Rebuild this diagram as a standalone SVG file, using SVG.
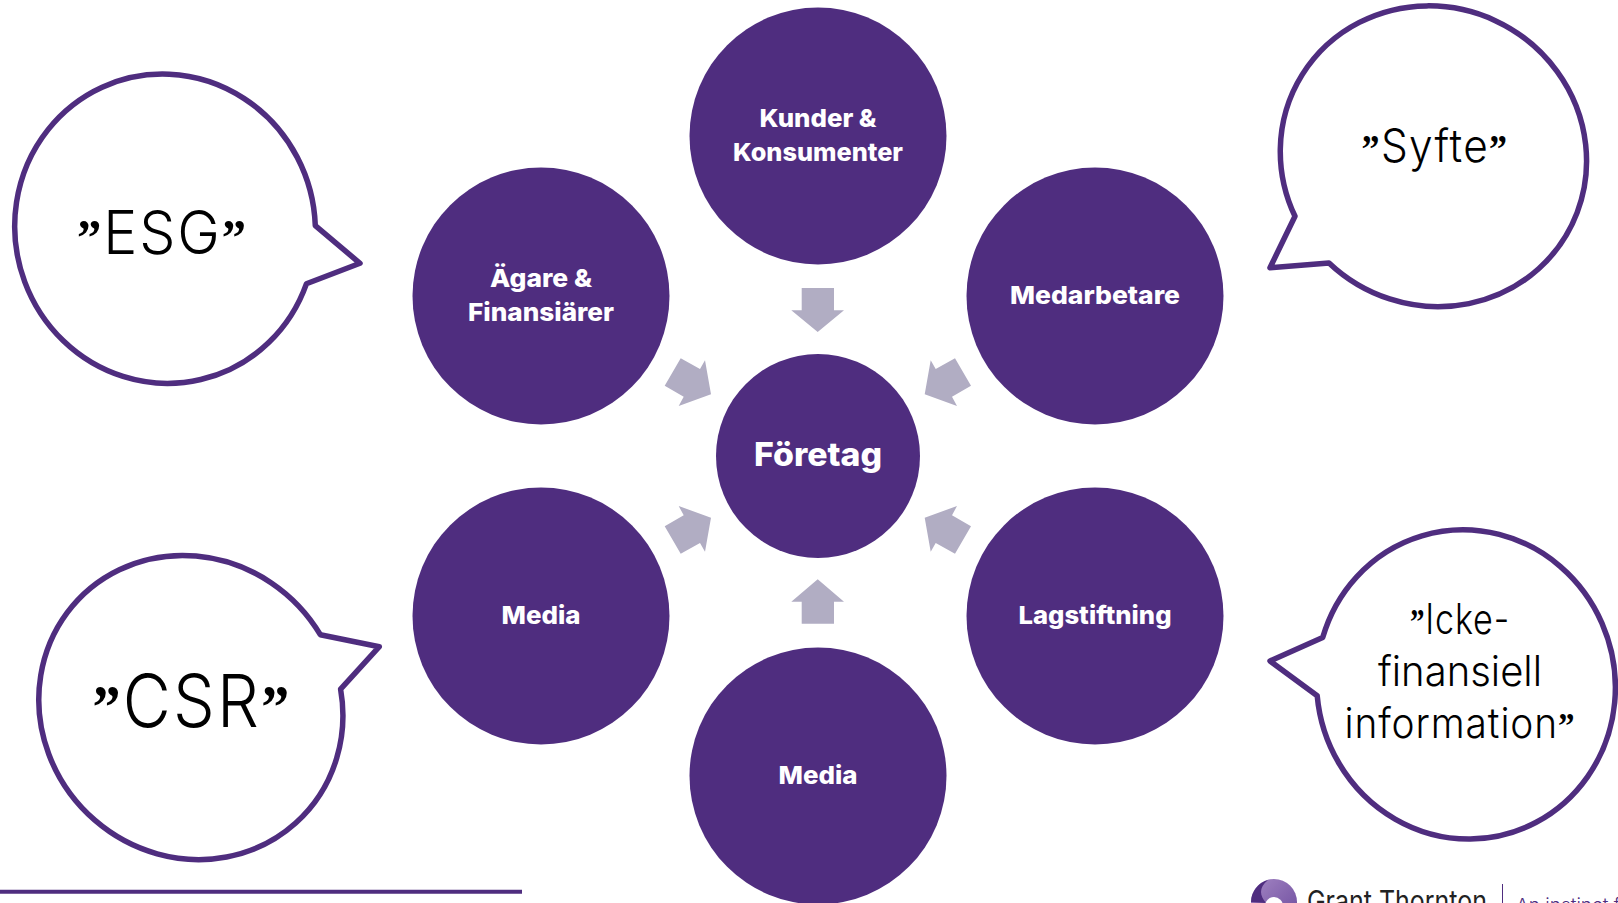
<svg xmlns="http://www.w3.org/2000/svg" width="1618" height="903" viewBox="0 0 1618 903">
<style>
.node{fill:#4f2d7f}
.nt{fill:#fff;font-family:"Inter","Liberation Sans",sans-serif;font-weight:800;font-size:25px;text-anchor:middle}
.arrow{fill:#b1adc3}
.bubble{fill:#fff;stroke:#4f2d7f;stroke-width:5.5;stroke-linejoin:round}
.bt{fill:#000;font-family:"Inter","Liberation Sans",sans-serif;font-weight:300;text-anchor:middle}
.q{font-family:"Liberation Serif",serif;font-weight:700;font-size:.85em}
</style>
<defs>
<linearGradient id="logoG" x1="0" y1="0" x2="1" y2="1"><stop offset="0" stop-color="#a486c4"/><stop offset="1" stop-color="#6b4a9c"/></linearGradient>
</defs>
<rect width="1618" height="903" fill="#fff"/>
<g id="connectors">
<polygon class="arrow" points="801.7,288 834,288 834,310.3 844,310.3 817.7,332 791.3,310.3 801.7,310.3"/>
<polygon class="arrow" points="801.7,623.7 834,623.7 834,601.7 844,601.7 817.7,579.3 791.3,601.7 801.7,601.7"/>
<polygon class="arrow" points="680.7,358.3 700,369 705,360.3 711,394.3 678.7,406 683.7,396.7 664.7,385.7"/>
<polygon class="arrow" points="955,358.3 935.7,369 930.7,360.3 924.7,394.3 957,406 952,396.7 971,385.7"/>
<polygon class="arrow" points="680.7,553.7 700,543 705,551.7 711,517.7 678.7,506 683.7,515.3 664.7,526.3"/>
<polygon class="arrow" points="955,553.7 935.7,543 930.7,551.7 924.7,517.7 957,506 952,515.3 971,526.3"/>
</g>
<g id="node-foretag"><circle class="node" cx="818" cy="456" r="102"/><text class="nt" x="818" y="466" style="font-size:33px" textLength="128" lengthAdjust="spacingAndGlyphs">Företag</text></g>
<g id="node-kunder"><circle class="node" cx="818" cy="136" r="128.5"/><text class="nt" x="818" y="127" textLength="117" lengthAdjust="spacingAndGlyphs">Kunder &amp;</text><text class="nt" x="818" y="161" textLength="170" lengthAdjust="spacingAndGlyphs">Konsumenter</text></g>
<g id="node-agare"><circle class="node" cx="541" cy="296" r="128.5"/><text class="nt" x="541" y="287" textLength="102" lengthAdjust="spacingAndGlyphs">Ägare &amp;</text><text class="nt" x="541" y="321" textLength="146" lengthAdjust="spacingAndGlyphs">Finansiärer</text></g>
<g id="node-medarbetare"><circle class="node" cx="1095" cy="296" r="128.5"/><text class="nt" x="1095" y="304" textLength="170" lengthAdjust="spacingAndGlyphs">Medarbetare</text></g>
<g id="node-media-left"><circle class="node" cx="541" cy="616" r="128.5"/><text class="nt" x="541" y="624" textLength="79" lengthAdjust="spacingAndGlyphs">Media</text></g>
<g id="node-lagstiftning"><circle class="node" cx="1095" cy="616" r="128.5"/><text class="nt" x="1095" y="624" textLength="153" lengthAdjust="spacingAndGlyphs">Lagstiftning</text></g>
<g id="node-media-bottom"><circle class="node" cx="818" cy="776" r="128.5"/><text class="nt" x="818" y="784" textLength="79" lengthAdjust="spacingAndGlyphs">Media</text></g>
<g id="bubble-esg"><path class="bubble" d="M315.3,225.7 L360,263.3 L306.4,283.8 A150 155 -15 1 1 315.3,225.7 Z"/><text class="bt" x="162.5" y="253.5" font-size="60" textLength="171" lengthAdjust="spacingAndGlyphs" letter-spacing="2"><tspan class="q">”</tspan>ESG<tspan class="q">”</tspan></text></g>
<g id="bubble-syfte"><path class="bubble" d="M1295,216.3 L1270,267.7 L1329,263 A149 154.5 -60 1 0 1295,216.3 Z"/><text class="bt" x="1435" y="162" font-size="46" textLength="147" lengthAdjust="spacingAndGlyphs" letter-spacing="1.5"><tspan class="q">”</tspan>Syfte<tspan class="q">”</tspan></text></g>
<g id="bubble-icke"><path class="bubble" d="M1322.7,637.6 L1270,661 L1317.2,695.7 A149 155 -15 1 0 1322.7,637.6 Z"/><text class="bt" x="1460" y="634" font-size="42" textLength="100" lengthAdjust="spacingAndGlyphs" letter-spacing="1"><tspan class="q">”</tspan>Icke-</text><text class="bt" x="1460" y="686" font-size="42" textLength="164" lengthAdjust="spacingAndGlyphs">finansiell</text><text class="bt" x="1460" y="738" font-size="42" textLength="231" lengthAdjust="spacingAndGlyphs" letter-spacing="1">information<tspan class="q">”</tspan></text></g>
<g id="bubble-csr"><path class="bubble" d="M320.3,634.7 L379.3,646.7 L340.6,689.1 A148 156 -45 1 1 320.3,634.7 Z"/><text class="bt" x="192" y="727" font-size="73" textLength="199" lengthAdjust="spacingAndGlyphs" letter-spacing="2.5"><tspan class="q">”</tspan>CSR<tspan class="q">”</tspan></text></g>
<line x1="0" y1="891.7" x2="522" y2="891.7" stroke="#4f2d7f" stroke-width="4"/>
<g id="logo">
<circle cx="1274" cy="902" r="23" fill="url(#logoG)"/>
<path d="M1251,902 A23 23 0 0 1 1268,880 C1258,888 1260,896 1266,903 Z" fill="#4f2d7f"/>
<circle cx="1274" cy="906" r="9" fill="#fff"/>
<text x="1307" y="911" font-family="Inter,'Liberation Sans',sans-serif" font-weight="400" font-size="29" fill="#222" textLength="180" lengthAdjust="spacingAndGlyphs">Grant Thornton</text>
<line x1="1502.5" y1="884" x2="1502.5" y2="903" stroke="#4f2d7f" stroke-width="1"/>
<text x="1516" y="912" font-family="Inter,'Liberation Sans',sans-serif" font-weight="300" font-size="19" fill="#4f2d7f">An instinct for growth</text>
</g>
</svg>
